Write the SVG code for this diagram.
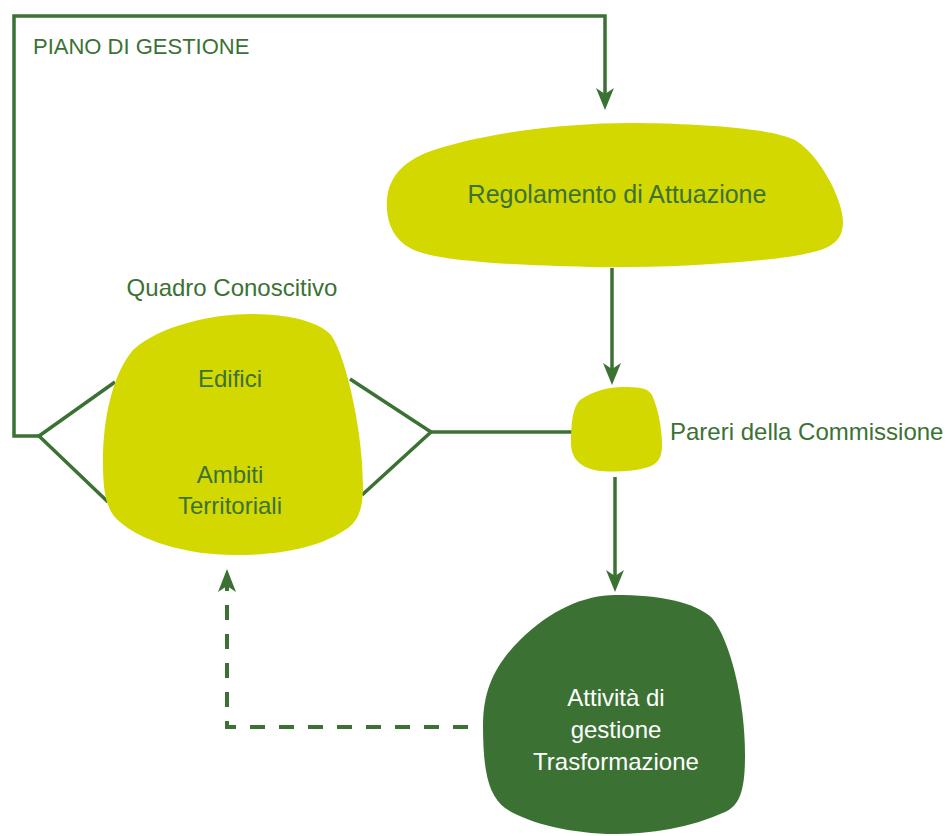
<svg xmlns="http://www.w3.org/2000/svg" width="946" height="836" viewBox="0 0 946 836">
<style>
.ln{fill:none;stroke:#3b7234;stroke-width:3.5;stroke-linejoin:miter;stroke-linecap:butt}
.dash{fill:none;stroke:#3b7234;stroke-width:4;stroke-dasharray:15 14}
.lime{fill:#d3d800}
.dark{fill:#3b7234}
.t{font-family:"Liberation Sans",Arial,sans-serif;font-size:24px;fill:#3b7234;text-anchor:middle}
.w{fill:#ffffff}
</style>
<defs>
<marker id="ah" markerUnits="userSpaceOnUse" markerWidth="24" markerHeight="20" refX="16" refY="9" orient="auto">
<path d="M0,0 L22,9 L0,18 L6,9 Z" fill="#3b7234"/>
</marker>
</defs>
<rect width="946" height="836" fill="#ffffff"/>
<g id="connectors">
<path class="ln" d="M39,436 L14,436 L14,16 L605,16 L605,104" marker-end="url(#ah)"/>
<polyline class="ln" points="115,382 39,436 108,502"/>
<polyline class="ln" points="350,379 431,432 362,495"/>
<line class="ln" x1="431" y1="432" x2="576" y2="432"/>
<path class="ln" d="M612,268 L612,379" marker-end="url(#ah)"/>
<path class="ln" d="M615,477 L615,586" marker-end="url(#ah)"/>
<path class="dash" d="M468,727 L227,727 L227,575"/>
<path d="M218,592 L227,569 L236,592 L227,586 Z" fill="#3b7234"/>
</g>
<text class="t" x="33" y="54" style="text-anchor:start;font-size:22px">PIANO DI GESTIONE</text>
<g id="regolamento">
<path class="lime" d="M387,210 C385,180 400,160 440,148 C500,130 580,122 640,123 C700,124 770,128 795,140 C820,155 843,200 843,222 C843,245 825,250 800,255 C740,265 650,268 590,267 C500,265 430,260 410,248 C395,240 388,225 387,210 Z"/>
<text class="t" x="617" y="203" style="font-size:25px">Regolamento di Attuazione</text>
</g>
<g id="quadro">
<text class="t" x="232" y="296">Quadro Conoscitivo</text>
<path class="lime" d="M133,350 C160,325 215,314 250,314 C290,314 318,322 330,334 C345,352 363,430 363,485 C363,510 358,520 348,528 C320,548 280,555 235,555 C185,555 140,540 120,522 C105,510 103,490 103,460 C103,420 112,375 133,350 Z"/>
<text class="t" x="230" y="387">Edifici</text>
<text class="t" x="230" y="483">Ambiti</text>
<text class="t" x="230" y="514">Territoriali</text>
</g>
<g id="pareri">
<path class="lime" d="M580,400 C595,390 610,387 622,387 C640,387 648,388 652,395 C658,408 662,428 662,445 C662,458 658,465 645,468 C630,472 615,472 600,471 C585,469 572,462 571,445 C571,425 572,408 580,400 Z"/>
<text class="t" x="670" y="440" style="text-anchor:start">Pareri della Commissione</text>
</g>
<g id="attivita">
<path class="dark" d="M520,640 C550,610 585,595 615,595 C660,595 695,602 712,618 C730,640 745,700 745,755 C745,790 740,805 725,812 C690,828 650,834 615,834 C570,834 525,822 505,808 C488,795 483,770 483,725 C483,690 495,665 520,640 Z"/>
<text class="t w" x="616" y="706">Attività di</text>
<text class="t w" x="616" y="738">gestione</text>
<text class="t w" x="616" y="770">Trasformazione</text>
</g>
</svg>
